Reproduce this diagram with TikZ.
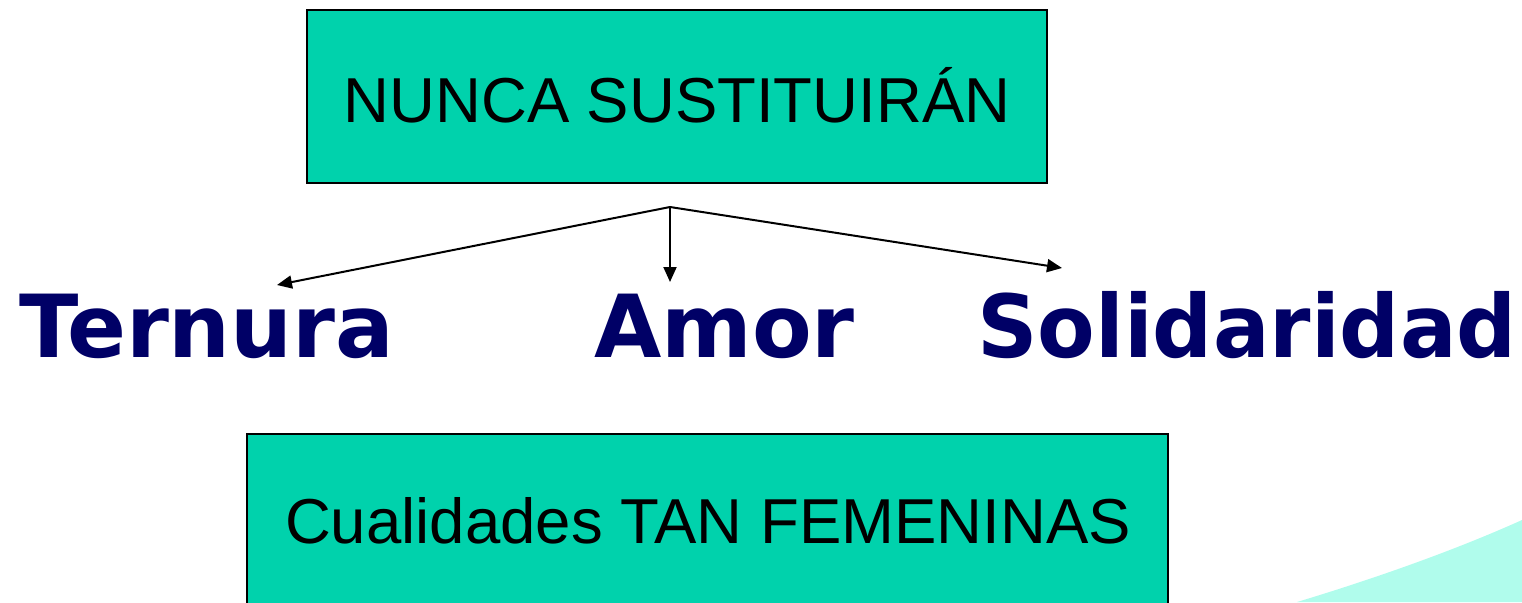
\documentclass[tikz,border=0pt]{standalone}
\usepackage{fontspec}
\setmainfont{Liberation Sans}
\newfontfamily\wordfont{DejaVu Sans}
\usetikzlibrary{arrows.meta}
\definecolor{boxgreen}{RGB}{0,210,172}
\definecolor{wordblue}{RGB}{0,0,102}
\definecolor{lightcyan}{RGB}{176,252,236}
\tikzset{
  greenbox/.style={draw=black, line width=1.5pt, fill=boxgreen, inner sep=0pt},
  boxtext/.style={font=\fontsize{63.5}{74}\selectfont, text=black, inner sep=0pt, anchor=base},
  word/.style={font=\wordfont\bfseries\fontsize{87}{96}\selectfont, text=wordblue, inner sep=0pt, anchor=base west},
  conn/.style={line width=2pt, -{Triangle[length=15pt,width=13pt]}}
}
\begin{document}
\begin{tikzpicture}[x=1pt,y=-1pt]
\useasboundingbox (0,0) rectangle (1522,602);
\fill[lightcyan] (1297,602) .. controls (1380,577) and (1460,548) .. (1522,520) -- (1522,602) -- cycle;
\node[greenbox, minimum width=740pt, minimum height=173pt] (top) at (677,96.5) {};
\node[boxtext] (toptext) at (677,122) {NUNCA SUSTITUIRÁN};
\node[greenbox, minimum width=921pt, minimum height=200pt] (bottom) at (707.5,534) {};
\node[boxtext] (bottomtext) at (708,543) {Cualidades TAN FEMENINAS};
\node[word] (ternura) at (19,357) {Ternura};
\node[word] (amor) at (594,357) {Amor};
\node[word, transform shape, xscale=0.965] (solid) at (977,357) {Solidaridad};
\coordinate (hub) at (670,207);
\coordinate (tl) at (277,285);
\coordinate (tm) at (670,282);
\coordinate (tr) at (1062,268);
\draw[conn] (hub) -- (tl);
\draw[conn] (hub) -- (tm);
\draw[conn] (hub) -- (tr);
\end{tikzpicture}
\end{document}
